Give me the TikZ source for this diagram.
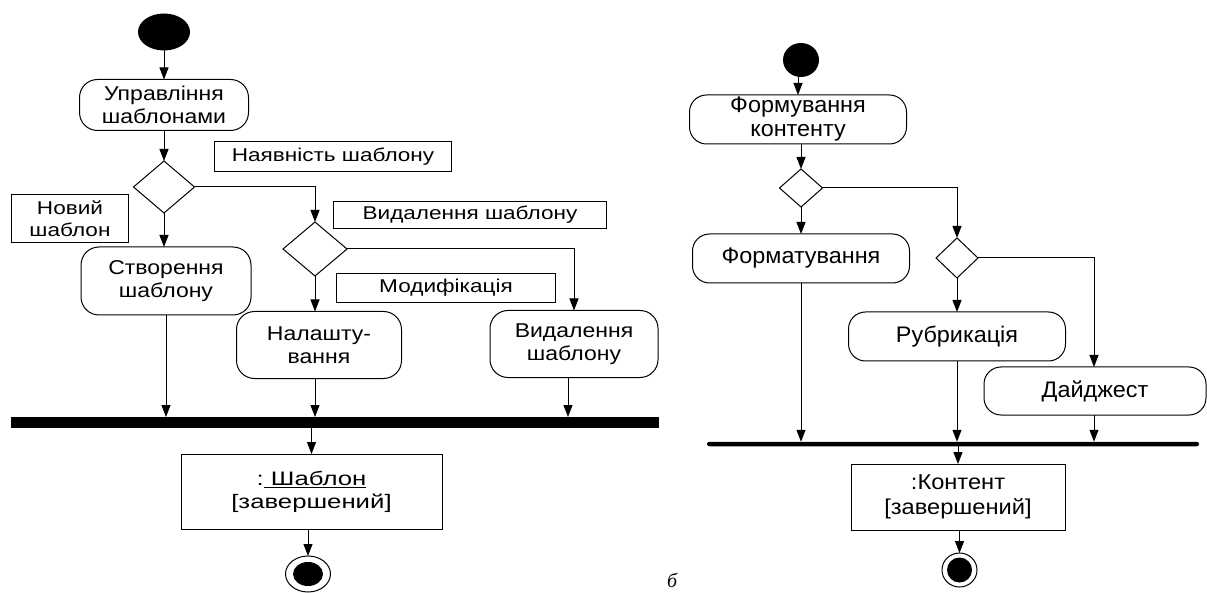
\documentclass[tikz,border=0pt]{standalone}
\usepackage{fontspec}
\setmainfont{Liberation Sans}
\newfontfamily\actfont[FakeStretch=1.15]{Liberation Sans}
\newfontfamily\labfont[FakeStretch=1.22]{Liberation Sans}
\newfontfamily\objfont[FakeStretch=1.32]{Liberation Sans}
\newfontfamily\rfont[FakeStretch=1.04]{Liberation Sans}
\newfontfamily\robjfont[FakeStretch=1.1]{Liberation Sans}
\newfontfamily\capfont{Liberation Serif}
\usetikzlibrary{shapes.geometric,arrows.meta,calc}
\begin{document}
\begin{tikzpicture}[x=1pt,y=-1pt,
  every node/.style={inner sep=0pt, outer sep=0pt},
  act/.style={draw, line width=1pt, rounded corners=18pt, align=center,
    font=\actfont\fontsize{20}{23}\selectfont},
  ract/.style={draw, line width=1pt, rounded corners=17pt, align=center,
    font=\rfont\fontsize{22.5}{25}\selectfont},
  lab/.style={draw, line width=1pt, align=center,
    font=\labfont\fontsize{18.5}{22}\selectfont},
  obj/.style={draw, line width=1pt, align=center,
    font=\objfont\fontsize{19.5}{23}\selectfont},
  robj/.style={draw, line width=1pt, align=center,
    font=\robjfont\fontsize{21.5}{25}\selectfont},
  dec/.style={draw, diamond, line width=1pt},
  startst/.style={ellipse, fill=black},
  endst/.style={ellipse, draw, line width=1pt},
  arr/.style={-{Triangle[length=12pt,width=9pt]}, line width=1pt}
]
\useasboundingbox (0,0) rectangle (1207,593);

% ---------- left diagram ----------
\node[startst, minimum width=52pt, minimum height=37pt] (s1) at (164,32) {};
\node[act, minimum width=169pt, minimum height=51pt] (a1) at (164,105) {Управління\\шаблонами};
\node[dec, minimum width=61pt, minimum height=52pt] (d1) at (164,187) {};
\node[lab, minimum width=237pt, minimum height=30pt] (l1) at (333,157) {Наявність шаблону};
\node[lab, minimum width=117pt, minimum height=48pt] (l2) at (70,219) {Новий\\шаблон};
\node[dec, minimum width=64pt, minimum height=54pt] (d2) at (315,249) {};
\node[lab, minimum width=273pt, minimum height=27pt] (l3) at (470,215) {Видалення шаблону};
\node[lab, minimum width=219pt, minimum height=29pt] (l4) at (446,288) {Модифікація};
\node[act, minimum width=170pt, minimum height=68pt] (a2) at (166,281) {Створення\\шаблону};
\node[act, minimum width=165pt, minimum height=67pt] (a3) at (319,345) {Налашту-\\вання};
\node[act, minimum width=168pt, minimum height=67pt] (a4) at (574,344) {Видалення\\шаблону};
\node[fill=black, minimum width=648pt, minimum height=11pt] (bar1) at (335,422.5) {};
\node[obj, minimum width=261pt, minimum height=75pt] (o1) at (311.5,491.5) {:\underline{\ Шаблон}\\{[}завершений{]}};
\node[endst, minimum width=45pt, minimum height=36pt,
  path picture={\fill[black] (path picture bounding box.center) ellipse (15pt and 12pt);}] (e1) at (308,574) {};

\draw[arr] (s1) -- (a1);
\draw[arr] (a1) -- (d1);
\draw[arr] (d1.south) -- (d1.south |- a2.north);
\draw[arr] (d1.east) -| (d2.north);
\draw[arr] (d2.south) -- (d2.south |- a3.north);
\draw[arr] (d2.east) -| (a4.north);
\draw[arr] (a2.south) -- (a2.south |- bar1.north);
\draw[arr] (a3.south -| d2) -- (d2 |- bar1.north);
\draw[arr] (a4.south -| 568,0) -- (568,0 |- bar1.north);
\draw[arr] (bar1.south -| o1) -- (o1.north);
\draw[arr] (o1.south -| e1) -- (e1.north);

% ---------- right diagram ----------
\node[startst, minimum width=36pt, minimum height=34pt] (s2) at (801,60) {};
\node[ract, minimum width=217pt, minimum height=47pt] (b1) at (798,119.5) {\raisebox{2pt}{\begin{tabular}{@{}c@{}}Формування\\[-1pt]контенту\end{tabular}}};
\node[dec, minimum width=43pt, minimum height=38pt] (d3) at (801,188) {};
\node[dec, minimum width=42pt, minimum height=40pt] (d4) at (957,258) {};
\node[ract, minimum width=217pt, minimum height=49pt] (b2) at (801,258.5) {Форматування};
\node[ract, minimum width=217pt, minimum height=49pt] (b3) at (957,336.5) {Рубрикація};
\node[ract, minimum width=222pt, minimum height=48pt] (b4) at (1095,391) {Дайджест};
\node[fill=black, rounded corners=2.2pt, minimum width=492pt, minimum height=4.5pt] (bar2) at (953,444) {};
\node[robj, minimum width=214pt, minimum height=66pt] (o2) at (958,497) {:Контент\\{[}завершений{]}};
\node[endst, minimum width=35pt, minimum height=34pt,
  path picture={\fill[black] (path picture bounding box.center) circle (12.5pt);}] (e2) at (959.5,570) {};

\draw[arr] (s2.south -| b1) -- (b1.north);
\draw[arr] (b1.south -| d3) -- (d3.north);
\draw[arr] (d3.south) -- (d3.south |- b2.north);
\draw[arr] (d3.east) -| (d4.north);
\draw[arr] (d4.south) -- (d4.south |- b3.north);
\draw[arr] (d4.east) -| (b4.north -| 1094,0);
\draw[arr] (b2.south) -- (b2.south |- bar2.north);
\draw[arr] (b3.south) -- (b3.south |- bar2.north);
\draw[arr] (b4.south -| 1094,0) -- (1094,0 |- bar2.north);
\draw[arr] (bar2.south -| o2) -- (o2.north);
\draw[arr] (o2.south -| e2) -- (e2.north);

\node[anchor=base west, font=\capfont\itshape\fontsize{20}{20}\selectfont] (cap) at (667,587) {б};
\end{tikzpicture}
\end{document}
